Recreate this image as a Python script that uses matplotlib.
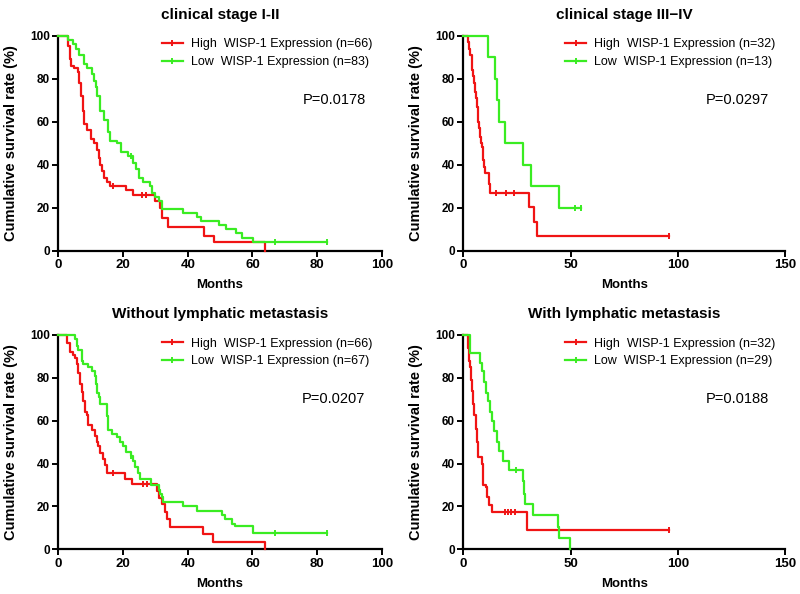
import numpy as np
import matplotlib
matplotlib.use('Agg')
import matplotlib.pyplot as plt
from matplotlib.lines import Line2D

plt.rcParams['font.family'] = ['Liberation Sans', 'DejaVu Sans']

RED = '#f01414'
GREEN = '#3aec22'

titles = ['clinical stage I-II', 'clinical stage III\u2212IV',
          'Without lymphatic metastasis', 'With lymphatic metastasis']
p_values = ['P=0.0178', 'P=0.0297', 'P=0.0207', 'P=0.0188']
n_high = [66, 32, 66, 32]
n_low = [83, 13, 67, 29]
x_max = [100, 150, 100, 150]
x_step = [20, 50, 20, 50]

# clinical stage I-II
s1_high_t = [0, 3, 3.5, 4, 5, 6, 6.5, 7, 7.5, 8, 9, 10, 11, 12, 12.5, 13, 13.5, 14, 15, 16,
             21, 23, 30, 31.5, 32, 34, 45, 48, 64]
s1_high_s = [100, 95, 89, 86, 85, 83, 78, 72, 65, 59, 56, 52, 50, 47, 43, 40, 37, 34, 32, 30,
             28, 26, 23, 20, 15, 11, 7, 4, 0]
s1_high_cens = [17, 26, 27]
s1_low_t = [0, 3, 4.5, 5.5, 6.5, 8, 9, 10.5, 11, 11.5, 12, 13, 14, 15.5, 16, 18, 19.5, 21.5,
            23, 24, 25, 26.3, 28.4, 28.9, 30, 31, 32, 38.7, 42.8, 44, 49.8, 51.7, 55, 56.7,
            60.1, 83]
s1_low_s = [100, 98, 96, 94, 91, 87, 85, 82, 79, 76, 72, 65, 61, 55, 51, 50, 46, 44,
            41, 38, 34, 32, 30, 27, 25, 23, 19.5, 17.5, 15.5, 14, 12, 10, 8, 6,
            4, 4]
s1_low_cens = [22.5, 67, 83]

# clinical stage III-IV
s2_high_t = [0, 2.3, 2.8, 3.3, 3.8, 4.2, 4.6, 5, 5.4, 5.8, 6.2, 6.6, 7, 7.4, 7.8, 8.2, 8.6,
             9, 9.3, 9.6, 10, 12, 12.5, 30.5, 33, 34.3, 96]
s2_high_s = [100, 97, 94, 91, 88, 84, 81, 78, 74, 71, 67, 63, 60, 57, 53, 50, 48,
             45, 42, 39, 36, 31, 27, 20.5, 13.5, 7, 7]
s2_high_cens = [15, 19.7, 23.5, 96]
s2_low_t = [0, 11.6, 14.7, 15.7, 16.7, 19.4, 27.6, 31.4, 44.6, 55]
s2_low_s = [100, 90, 80, 70, 60, 50, 40, 30, 20, 20]
s2_low_cens = [52, 55]

# without lymphatic metastasis
s3_high_t = [0, 2.6, 3.6, 4.6, 5.2, 5.7, 6.2, 6.7, 7.2, 7.7, 8.2, 8.8, 9.3, 10.3, 11.3, 12,
             12.4, 13, 13.8, 14.4, 15, 20.6, 22.7, 30.4, 31, 32, 33, 33.5, 34.5, 44.8, 47.7, 64]
s3_high_s = [100, 96, 92, 90.5, 89, 86.5, 82, 77, 73.5, 69, 64, 62.5, 58, 55.5, 53, 50,
             48, 45, 42, 39.5, 35.5, 33, 30.5, 27, 24, 21, 17.5, 14, 10.5, 7, 3.5, 0]
s3_high_cens = [17, 26.3, 27.3]
s3_low_t = [0, 5.2, 5.7, 6.2, 7.2, 7.7, 9.3, 10.3, 11.3, 11.6, 11.9, 12.5, 12.9, 14.9, 15.5,
            16.5, 18, 19, 20, 21, 22.5, 23.2, 23.7, 24.7, 25.3, 28.6, 31, 31.5, 32, 32.5,
            38.7, 42.8, 50.7, 51.4, 53.6, 54.6, 60.1, 83]
s3_low_s = [100, 98, 95, 93, 88, 86.5, 85, 83, 81, 77, 73, 71, 68, 62, 55.5,
            54, 52.5, 50, 48, 45.5, 43.5, 41, 38.5, 35.5, 33, 30, 27.5, 26, 24.5, 22.3,
            20.2, 18, 16, 14, 12, 10.9, 7.5, 7.5]
s3_low_cens = [22.5, 67, 83]

# with lymphatic metastasis
s4_high_t = [0, 2.3, 2.7, 3.1, 3.5, 3.9, 4.5, 5, 5.9, 6.5, 7, 8.5, 9.3, 10.5, 11.1, 12.1,
             13.2, 29.6, 96]
s4_high_s = [100, 94, 88, 85, 79, 74, 68, 62.5, 56, 50, 43, 40, 30, 29, 24.5, 20.5,
             17.5, 9, 9]
s4_high_cens = [19.3, 20.9, 22.4, 24, 96]
s4_low_t = [0, 3.1, 7.7, 8.5, 9.6, 10.5, 11.5, 12.4, 13.2, 14.5, 15.5, 16.5, 18.3, 21.2,
            27.9, 28.3, 28.8, 32.4, 44.3, 44.8, 49.6]
s4_low_s = [100, 91.5, 87, 83, 78, 73, 69, 64, 60, 55, 50, 46, 41, 37,
            32, 26, 21, 16, 10.5, 5.3, 0]
s4_low_cens = [24.5]

high_t = [s1_high_t, s2_high_t, s3_high_t, s4_high_t]
high_s = [s1_high_s, s2_high_s, s3_high_s, s4_high_s]
high_c = [s1_high_cens, s2_high_cens, s3_high_cens, s4_high_cens]
low_t = [s1_low_t, s2_low_t, s3_low_t, s4_low_t]
low_s = [s1_low_s, s2_low_s, s3_low_s, s4_low_s]
low_c = [s1_low_cens, s2_low_cens, s3_low_cens, s4_low_cens]

# axes boxes in figure fraction (left, bottom, width, height)
boxes = [(0.0729, 0.578, 0.4043, 0.362),
         (0.5792, 0.578, 0.4021, 0.362),
         (0.0729, 0.0752, 0.4043, 0.361),
         (0.5792, 0.0752, 0.4021, 0.361)]


def km(ax, t, s, cens, color):
    ax.step(t, s, where='post', color=color, lw=1.6, clip_on=False, zorder=3)
    t = np.asarray(t)
    s = np.asarray(s)
    idx = np.searchsorted(t, cens, side='right') - 1
    ax.plot(cens, s[idx], ls='none', marker='|', ms=5, mew=1.4, color=color,
            clip_on=False, zorder=3)


fig = plt.figure(figsize=(8, 5.94), dpi=100)

for i in range(4):
    ax = fig.add_axes(boxes[i])
    km(ax, high_t[i], high_s[i], high_c[i], RED)
    km(ax, low_t[i], low_s[i], low_c[i], GREEN)

    ax.set_xlim(0, x_max[i])
    ax.set_ylim(0, 100)
    ax.set_xticks(np.arange(0, x_max[i] + 1, x_step[i]))
    ax.set_yticks(np.arange(0, 101, 20))
    for sp in ['top', 'right']:
        ax.spines[sp].set_visible(False)
    for sp in ['left', 'bottom']:
        ax.spines[sp].set_linewidth(1.6)
    ax.tick_params(width=1.4, length=4, direction='out', pad=2)
    for lab in ax.get_xticklabels():
        lab.set_fontsize(9.5)
        lab.set_fontweight('bold')
    for lab in ax.get_yticklabels():
        lab.set_fontsize(8.5)
        lab.set_fontweight('bold')

    ax.set_title(titles[i], fontsize=11, fontweight='bold', pad=12)
    ax.set_xlabel('Months', fontsize=9.5, fontweight='bold', labelpad=6)
    ax.set_ylabel('Cumulative survival rate (%)', fontsize=10.5, fontweight='bold', labelpad=9)

    handles = [Line2D([], [], color=RED, lw=1.6, marker='|', ms=5, mew=1.4),
               Line2D([], [], color=GREEN, lw=1.6, marker='|', ms=5, mew=1.4)]
    labels = ['High  WISP-1 Expression (n=%d)' % n_high[i],
              'Low  WISP-1 Expression (n=%d)' % n_low[i]]
    ax.legend(handles, labels, loc='upper right', bbox_to_anchor=(0.985, 1.01),
              frameon=False, fontsize=9, handlelength=1.7, handletextpad=0.6,
              labelspacing=0.45, borderaxespad=0)

    ax.text(0.95, 0.70, p_values[i], transform=ax.transAxes, ha='right', va='center',
            fontsize=10.5)

fig.savefig('out.png', dpi=100)
